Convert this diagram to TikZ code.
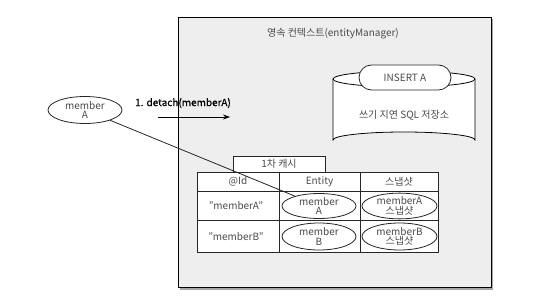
\documentclass[tikz,border=0pt]{standalone}
\usepackage{fontspec}
\setmainfont{Noto Sans CJK KR}
\newfontfamily\boldish[FakeBold=0.6]{Noto Sans CJK KR}
\usetikzlibrary{shapes.geometric,shapes.misc,arrows.meta}
\definecolor{boxbg}{HTML}{EEEEEE}
\definecolor{txt}{HTML}{4A4A4A}
\begin{document}
\begin{tikzpicture}[x=1pt,y=-1pt,
  every node/.style={font=\fontsize{10}{10.5}\selectfont, text=txt, inner sep=0pt, align=center},
  ell/.style={draw=black!85, line width=0.8pt, ellipse, fill=white, minimum width=74pt, minimum height=25pt},
  cell/.style={draw=black!85, line width=0.8pt, fill=white}
]
\useasboundingbox (0,0) rectangle (539,305);
% outer box with shadow
\fill[black!35] (180,19) rectangle (493,289.5);
\draw[line width=0.8pt, fill=boxbg] (178,17) rectangle (491,287);
\node (title) at (333,34) {영속 컨텍스트(entityManager)};
% cylinder
\draw[line width=0.8pt, fill=white] (333,79) -- (333,140) arc[start angle=180, end angle=360, x radius=71, y radius=8] -- (475,79);
\draw[line width=0.8pt, fill=white] (404,79) ellipse[x radius=71, y radius=8];
\node[draw=black!85, line width=0.8pt, rounded rectangle, fill=white, minimum width=92pt, minimum height=25pt] (ins) at (405,77.5) {INSERT A};
\node (sql) at (404,115) {쓰기 지연 SQL 저장소};
% left member
\node[ell, minimum height=27pt] (m0) at (85,110) {member\\[-1pt]A};
\node[font=\boldish\fontsize{10}{10.5}\selectfont, text=black] (det) at (183,103) {1. detach(memberA)};
\coordinate (a1) at (158,117);
\coordinate (a2) at (230,117);
\draw[line width=0.8pt, -{Stealth[length=7pt,width=5pt]}] (a1) -- (a2);
% tab
\draw[cell] (233,156) rectangle (325,172);
\node (tab) at (279,164) {1차 캐시};
% table
\draw[cell] (197,172) rectangle (438,252);
\draw[line width=0.8pt, black!85] (197,191) -- (438,191) (197,220) -- (438,220)
  (279,172) -- (279,252) (360,172) -- (360,252);
\node (h1) at (238,181.5) {@Id};
\node (h2) at (319.5,181.5) {Entity};
\node (h3) at (399,181.5) {스냅샷};
\node (k1) at (236,206) {"memberA"};
\node (k2) at (236,237) {"memberB"};
\node[ell] (mA) at (319,206) {member\\[-1pt]A};
\node[ell, minimum width=75pt] (sA) at (399.5,206) {memberA\\[-1pt]스냅샷};
\node[ell, minimum height=27pt] (mB) at (319,236.5) {member\\[-1pt]B};
\node[ell, minimum width=75pt, minimum height=27pt] (sB) at (399.5,236.5) {memberB\\[-1pt]스냅샷};
% connector
\draw[line width=0.8pt, black!85] (m0) -- (mA);
\end{tikzpicture}
\end{document}
